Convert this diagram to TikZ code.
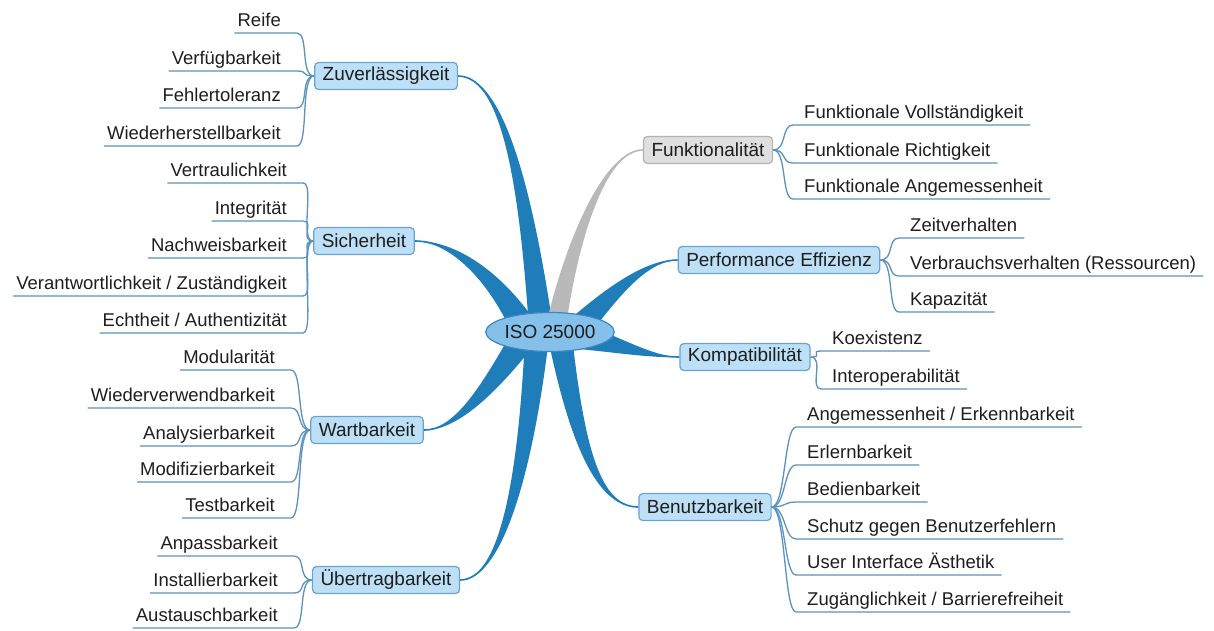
\documentclass[tikz,border=0pt]{standalone}
\usepackage{fontspec}
\setmainfont{Liberation Sans}
\usetikzlibrary{calc,shapes.geometric}
\pgfdeclarelayer{background}
\pgfsetlayers{background,main}
\definecolor{branchblue}{HTML}{1F7DBA}
\definecolor{subline}{HTML}{5B93BE}
\definecolor{nodefill}{HTML}{BDE0F7}
\definecolor{nodedraw}{HTML}{6AA3D0}
\definecolor{isofill}{HTML}{85C0EA}
\definecolor{isodraw}{HTML}{3F86C0}
\definecolor{grayfill}{HTML}{DFDFDF}
\definecolor{graydraw}{HTML}{B3B3B3}
\definecolor{graybranch}{HTML}{B9B9B9}
\definecolor{txt}{HTML}{1E1E1E}
% tapered branch: #1 colour, #2 base half width, #3 mid half width, #4 start, #5 ctrl1, #6 ctrl2, #7 target
\newcommand\mmbranch[7]{%
  \fill[#1] ($#4!#2!90:#5$) .. controls ($#5!#3!90:#6$) and ($#6!1.2pt!90:#7$) .. #7
     .. controls ($#6!1.2pt!-90:#7$) and ($#5!#3!-90:#6$) .. ($#4!#2!-90:#5$) -- cycle;
  \draw[#1, line width=1.6pt] #4 .. controls #5 and #6 .. #7;
}
\newcommand\lsub[2]{\draw[sub] (#1.west) .. controls +(-14,0) and +(12,0) .. ([xshift=16pt,yshift=-7pt]#2.base east) -- ([xshift=-3pt,yshift=-7pt]#2.base west);}
\newcommand\rsub[2]{\draw[sub] (#1.east) .. controls +(14,0) and +(-12,0) .. ([xshift=-11pt,yshift=-7pt]#2.base west) -- ([xshift=7pt,yshift=-7pt]#2.base east);}
\begin{document}
\begin{tikzpicture}[x=1pt,y=-1pt,
  main/.style={draw=nodedraw, fill=nodefill, line width=1.2pt, rounded corners=4pt,
    inner xsep=8pt, inner ysep=0pt, minimum height=27pt,
    font=\fontsize{19}{22}\selectfont, text=txt},
  graymain/.style={main, draw=graydraw, fill=grayfill},
  iso/.style={ellipse, draw=isodraw, fill=isofill, line width=1.2pt,
    minimum width=126pt, minimum height=39pt, inner sep=0pt,
    font=\fontsize{19}{22}\selectfont, text=txt},
  lchild/.style={anchor=base east, inner sep=0pt, font=\fontsize{18.5}{22}\selectfont, text=txt},
  rchild/.style={anchor=base west, inner sep=0pt, font=\fontsize{18.5}{22}\selectfont, text=txt},
  sub/.style={draw=subline, line width=1.3pt}
]
\useasboundingbox (0,0) rectangle (1214,630);

% centre and main nodes
\node[iso] (iso) at (550,332) {ISO 25000};
\node[main] (zuv) at (386,76) {Zuverlässigkeit};
\node[main] (sich) at (364,241) {Sicherheit};
\node[main] (wart) at (367,430) {Wartbarkeit};
\node[main] (uber) at (386,580) {Übertragbarkeit};
\node[graymain] (funk) at (708,150) {Funktionalität};
\node[main] (perf) at (779,260) {Performance Effizienz};
\node[main] (komp) at (745,357) {Kompatibilität};
\node[main] (benutz) at (705,507) {Benutzbarkeit};

% children left
\node[lchild] (z1) at (281,26) {Reife};
\node[lchild] (z2) at (281,64) {Verfügbarkeit};
\node[lchild] (z3) at (281,101) {Fehlertoleranz};
\node[lchild] (z4) at (281,139) {Wiederherstellbarkeit};

\node[lchild] (s1) at (287,176) {Vertraulichkeit};
\node[lchild] (s2) at (287,214) {Integrität};
\node[lchild] (s3) at (287,251) {Nachweisbarkeit};
\node[lchild] (s4) at (287,289) {Verantwortlichkeit / Zuständigkeit};
\node[lchild] (s5) at (287,326) {Echtheit / Authentizität};

\node[lchild] (w1) at (275,363) {Modularität};
\node[lchild] (w2) at (275,401) {Wiederverwendbarkeit};
\node[lchild] (w3) at (275,439) {Analysierbarkeit};
\node[lchild] (w4) at (275,475) {Modifizierbarkeit};
\node[lchild] (w5) at (275,511) {Testbarkeit};

\node[lchild] (u1) at (278,549) {Anpassbarkeit};
\node[lchild] (u2) at (278,586) {Installierbarkeit};
\node[lchild] (u3) at (278,621) {Austauschbarkeit};

% children right
\node[rchild] (f1) at (804,118) {Funktionale Vollständigkeit};
\node[rchild] (f2) at (804,156) {Funktionale Richtigkeit};
\node[rchild] (f3) at (804,192) {Funktionale Angemessenheit};

\node[rchild] (p1) at (910,231) {Zeitverhalten};
\node[rchild] (p2) at (910,269) {Verbrauchsverhalten (Ressourcen)};
\node[rchild] (p3) at (910,305) {Kapazität};

\node[rchild] (k1) at (832,344) {Koexistenz};
\node[rchild] (k2) at (832,382) {Interoperabilität};

\node[rchild] (b1) at (807,420) {Angemessenheit / Erkennbarkeit};
\node[rchild] (b2) at (807,458) {Erlernbarkeit};
\node[rchild] (b3) at (807,495) {Bedienbarkeit};
\node[rchild] (b4) at (807,532) {Schutz gegen Benutzerfehlern};
\node[rchild] (b5) at (807,568) {User Interface Ästhetik};
\node[rchild] (b6) at (807,605) {Zugänglichkeit / Barrierefreiheit};

% tapered main branches
\begin{pgfonlayer}{background}
\fill[white] (0,0) rectangle (1214,630);
\mmbranch{branchblue}{12pt}{7pt}{(541,328)}{(527,200)}{(505,76)}{(zuv.east)}
\mmbranch{branchblue}{13pt}{8pt}{(524,328)}{(492,272)}{(450,241)}{(sich.east)}
\mmbranch{branchblue}{13pt}{8pt}{(524,337)}{(487,392)}{(455,430)}{(wart.east)}
\mmbranch{branchblue}{12pt}{7pt}{(537,337)}{(525,480)}{(500,580)}{(uber.east)}
\mmbranch{graybranch}{10pt}{6pt}{(556,326)}{(572,240)}{(605,150)}{(funk.west)}
\mmbranch{branchblue}{13pt}{8pt}{(576,331)}{(610,295)}{(645,260)}{(perf.west)}
\mmbranch{branchblue}{13pt}{8pt}{(578,336)}{(620,345)}{(650,357)}{(komp.west)}
\mmbranch{branchblue}{12pt}{7pt}{(560,337)}{(578,450)}{(600,507)}{(benutz.west)}
\end{pgfonlayer}

% sub connectors
\lsub{zuv}{z1}\lsub{zuv}{z2}\lsub{zuv}{z3}\lsub{zuv}{z4}
\lsub{sich}{s1}\lsub{sich}{s2}\lsub{sich}{s3}\lsub{sich}{s4}\lsub{sich}{s5}
\lsub{wart}{w1}\lsub{wart}{w2}\lsub{wart}{w3}\lsub{wart}{w4}\lsub{wart}{w5}
\lsub{uber}{u1}\lsub{uber}{u2}\lsub{uber}{u3}
\rsub{funk}{f1}\rsub{funk}{f2}\rsub{funk}{f3}
\rsub{perf}{p1}\rsub{perf}{p2}\rsub{perf}{p3}
\rsub{komp}{k1}\rsub{komp}{k2}
\rsub{benutz}{b1}\rsub{benutz}{b2}\rsub{benutz}{b3}\rsub{benutz}{b4}\rsub{benutz}{b5}\rsub{benutz}{b6}
\end{tikzpicture}
\end{document}
